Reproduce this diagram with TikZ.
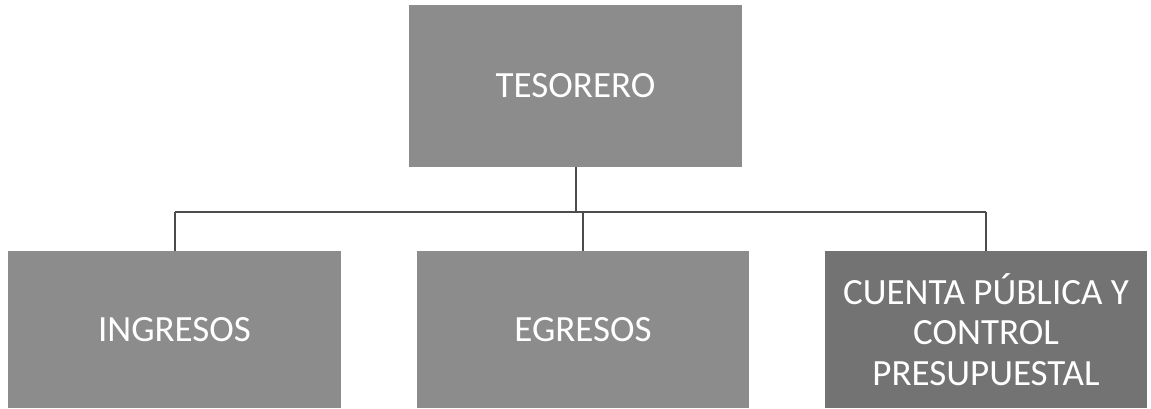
\documentclass[tikz,border=0pt]{standalone}
\usepackage{fontspec}
\setmainfont{Carlito}
\begin{document}
\begin{tikzpicture}[x=1pt,y=1pt,
  caja/.style={draw=none, fill=black!45, text=white, align=center,
    inner sep=0pt, font=\fontsize{37}{40.5}\selectfont},
  linea/.style={draw=black!70, line width=2pt}]
\useasboundingbox[fill=white] (0,0) rectangle (1151,408);
\node[caja, minimum width=333, minimum height=162] (tesorero) at (575.5,322) {TESORERO};
\node[caja, minimum width=333, minimum height=157] (ingresos) at (174.5,78.5) {INGRESOS};
\node[caja, minimum width=332, minimum height=157] (egresos) at (583,78.5) {EGRESOS};
\node[caja, fill=black!55, minimum width=322, minimum height=157] (cuenta) at (986,78.5) {CUENTA PÚBLICA Y\\CONTROL\\PRESUPUESTAL};
\coordinate (rama) at (0,196);
\draw[linea] (tesorero.south) -- (tesorero.south |- rama);
\foreach \n in {ingresos,egresos,cuenta}
\draw[linea] (\n.north) -- (\n.north |- rama);
\draw[linea] (ingresos.north |- rama) -- (cuenta.north |- rama);
\end{tikzpicture}
\end{document}
